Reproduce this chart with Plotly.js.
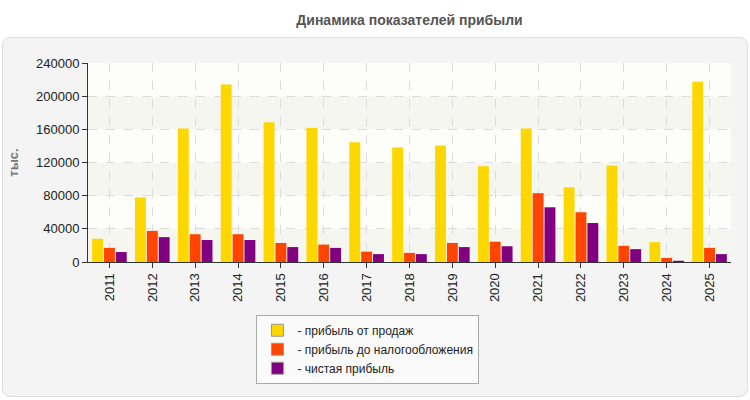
<!DOCTYPE html>
<html>
<head>
<meta charset="utf-8">
<script src="https://cdn.plot.ly/plotly-3.0.1.min.js"></script>
<style>
  html, body { margin: 0; padding: 0; background: #ffffff; }
  #panel { position: absolute; left: 2px; top: 37px; width: 744px; height: 358px;
           background: #f4f4f4; border: 1px solid #dedede; border-radius: 8px; }
  #chart { position: absolute; left: 0; top: 0; width: 750px; height: 400px; }
</style>
</head>
<body>
<div id="panel"></div>
<div id="chart"></div>
<script>
const years = ['2011','2012','2013','2014','2015','2016','2017','2018','2019','2020','2021','2022','2023','2024','2025'];
const salesProfit = [28000, 78000, 161000, 214000, 168500, 162000, 144500, 138000, 140500, 115500, 161000, 90000, 116500, 24000, 217500];
const preTaxProfit = [17000, 37500, 33500, 33500, 23000, 21000, 12500, 11000, 23000, 24500, 83000, 60000, 19500, 5000, 17000];
const netProfit = [12000, 30000, 26500, 26500, 18000, 17000, 9500, 9500, 18000, 19000, 66000, 47000, 15500, 1500, 9500];
const seriesNames = ['- прибыль от продаж', '- прибыль до налогообложения', '- чистая прибыль'];
const seriesColors = ['#FFD700', '#FF4500', '#800080'];
const yTicks = [0, 40000, 80000, 120000, 160000, 200000, 240000];

const allSeries = [salesProfit, preTaxProfit, netProfit];
const traces = allSeries.map((vals, i) => ({
  type: 'bar',
  x: years,
  y: vals,
  name: seriesNames[i],
  legendgroup: 'g' + i,
  showlegend: false,
  marker: { color: seriesColors[i], line: { width: 0 } },
  hoverinfo: 'x+y'
}));
// legend entries with grey-bordered swatches (on hidden axes so they do not take group slots)
seriesNames.forEach((nm, i) => {
  traces.push({
    type: 'bar', x: [null], y: [null], name: nm, legendgroup: 'g' + i,
    showlegend: true, xaxis: 'x2', yaxis: 'y2',
    marker: { color: seriesColors[i], line: { color: '#999999', width: 1 } }
  });
});

// alternating background bands between gridlines
const shapes = [];
for (let i = 0; i < yTicks.length - 1; i++) {
  shapes.push({
    type: 'rect', xref: 'paper', yref: 'y', layer: 'below',
    x0: 0, x1: 1, y0: yTicks[i], y1: yTicks[i + 1],
    fillcolor: (i % 2 === 0) ? '#f6f6f1' : '#fdfdf9',
    line: { width: 0 }
  });
}

const layout = {
  width: 750, height: 400,
  margin: { l: 88, r: 19, t: 63, b: 138 },
  paper_bgcolor: 'rgba(0,0,0,0)',
  plot_bgcolor: '#fdfdf9',
  font: { family: 'Liberation Sans, Arial, sans-serif', size: 13, color: '#222' },
  title: {
    text: '<b>Динамика показателей прибыли</b>',
    font: { family: 'Liberation Sans, Arial, sans-serif', size: 14, color: '#555' },
    x: 0.5, xref: 'paper', xanchor: 'center', y: 0.95, yref: 'container', yanchor: 'middle'
  },
  barmode: 'group',
  bargap: 0.17,
  bargroupgap: 0.08,
  showlegend: true,
  legend: {
    x: 0.262, y: -0.265, xanchor: 'left', yanchor: 'top',
    bgcolor: '#fafafa', bordercolor: '#aaaaaa', borderwidth: 1,
    font: { size: 12, color: '#222' },
    tracegroupgap: 0, itemwidth: 30, traceorder: 'normal'
  },
  xaxis: {
    type: 'category',
    tickangle: -90,
    showgrid: true, gridcolor: '#dcdcdc', griddash: 'dash', gridwidth: 1,
    showline: true, linecolor: '#333', linewidth: 1,
    ticks: 'outside', ticklen: 5, tickcolor: '#333',
    tickfont: { size: 13, color: '#222' },
    mirror: false
  },
  yaxis: {
    range: [0, 240000],
    tickvals: yTicks,
    ticktext: yTicks.map(String),
    showgrid: true, gridcolor: '#dcdcdc', griddash: 'dash', gridwidth: 1,
    showline: true, linecolor: '#333', linewidth: 1,
    ticks: 'outside', ticklen: 5, tickcolor: '#333',
    tickfont: { size: 13, color: '#222' },
    zeroline: false,
    title: { text: '<b>тыс.</b>', font: { size: 13, color: '#777' }, standoff: 14 }
  },
  xaxis2: { overlaying: 'x', visible: false, showgrid: false, range: [0, 1] },
  yaxis2: { overlaying: 'y', visible: false, showgrid: false, range: [0, 1] },
  shapes: shapes
};

Plotly.newPlot('chart', traces, layout, { displayModeBar: false, staticPlot: true });
</script>
</body>
</html>
